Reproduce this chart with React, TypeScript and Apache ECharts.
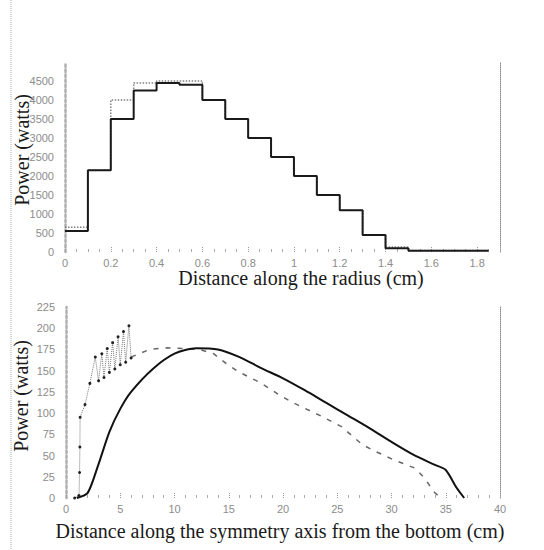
import React, { useEffect, useRef } from "react";
import * as echarts from "echarts";

// ---- Top chart: power along the radius (step profiles) ----
const radiusX = [0, 0.1, 0.2, 0.3, 0.4, 0.5, 0.6, 0.7, 0.8, 0.9, 1.0, 1.1, 1.2, 1.3, 1.4, 1.5, 1.85];
const radiusPowerSolid = [550, 2150, 3500, 4250, 4450, 4400, 4000, 3500, 3000, 2500, 2000, 1500, 1100, 450, 100, 30, 30];
const radiusPowerDotted = [650, 2150, 4000, 4450, 4500, 4500, 4000, 3500, 3000, 2500, 2000, 1500, 1100, 450, 130, 40, 40];

// ---- Bottom chart: power along the symmetry axis ----
const axisSolidX = [1.0, 2, 3, 4, 5, 6, 8, 10, 12, 14, 16, 18, 20, 22, 24, 26, 28, 30, 32, 34, 35, 36, 36.7];
const axisSolidP = [0, 6, 40, 78, 105, 125, 152, 170, 176.5, 175, 166, 153, 141, 127, 112, 97, 82, 66, 51, 39, 33, 12, 0];

const axisZigX = [0.8, 1.2, 1.25, 1.28, 1.3, 1.75, 2.2, 2.7, 3.0, 3.3, 3.5, 3.8, 4.0, 4.3, 4.5, 4.8, 5.0, 5.3, 5.5, 5.8, 6.0];
const axisZigP = [0, 3, 30, 60, 95, 110, 135, 166, 138, 170, 142, 176, 148, 183, 152, 190, 157, 196, 160, 203, 165];

const axisDashX = [6.0, 7.7, 9.3, 10.8, 12.3, 13.6, 14.8, 16.0, 17.9, 19.6, 20.8, 23.6, 25.4, 27.3, 28.5, 30.2, 32.2, 33.0, 34.0, 34.6];
const axisDashP = [166, 175, 177, 176, 175, 170, 158, 148, 136, 122, 113, 96, 84, 63, 55, 45, 35, 24, 6, 0];

const topXName = "Distance along the radius (cm)";
const bottomXName = "Distance along the symmetry axis from the bottom (cm)";
const yName = "Power (watts)";

const zip = (xs: number[], ys: number[]) => xs.map((x, i) => [x, ys[i]]);

const serif = "'Liberation Serif', 'DejaVu Serif', serif";
const sans = "'Liberation Sans', Arial, sans-serif";

export default function App() {
  const ref = useRef<HTMLDivElement>(null);
  useEffect(() => {
    if (!ref.current) return;
    const chart = echarts.init(ref.current, undefined, { renderer: "svg" });
    const labelStyle = { color: "#8c8c8c", fontSize: 11, fontFamily: sans, formatter: (v: number) => String(Math.round(v * 100) / 100) };
    const xCommon = {
      type: "value" as const,
      axisLine: { show: false },
      axisTick: { show: true, inside: true, length: 5, lineStyle: { color: "#999", type: "dotted" as const } },
      minorTick: { show: true, length: 3, lineStyle: { color: "#aaa" } },
      splitLine: { show: false },
      axisLabel: { ...labelStyle, margin: 5, showMaxLabel: false },
    };
    const yLeftCommon = {
      type: "value" as const,
      position: "left" as const,
      axisLine: { show: true, lineStyle: { color: "#b0b0b0", width: 2.5, type: "dotted" as const } },
      axisTick: { show: false },
      splitLine: { show: false },
      axisLabel: { ...labelStyle, margin: 11, showMaxLabel: false },
    };
    const yRightCommon = {
      type: "value" as const,
      position: "right" as const,
      axisLine: { show: true, onZero: false, lineStyle: { color: "#888", width: 1, type: "dotted" as const } },
      axisTick: { show: false },
      axisLabel: { show: false },
      splitLine: { show: false },
    };
    chart.setOption({
      animation: false,
      backgroundColor: "#fff",
      grid: [
        { left: 65, right: 44, top: 62, height: 190 },
        { left: 66, right: 44, top: 307, height: 191 },
      ],
      xAxis: [
        { ...xCommon, gridIndex: 0, min: 0, max: 1.9, interval: 0.2, minorTick: { ...xCommon.minorTick, splitNumber: 4 } },
        { ...xCommon, gridIndex: 1, min: 0, max: 40, interval: 5, minorTick: { ...xCommon.minorTick, splitNumber: 5 }, axisLabel: { ...xCommon.axisLabel, showMaxLabel: true } },
      ],
      yAxis: [
        { ...yLeftCommon, gridIndex: 0, min: 0, max: 5000, interval: 500 },
        { ...yRightCommon, gridIndex: 0, min: 0, max: 5000 },
        { ...yLeftCommon, gridIndex: 1, min: 0, max: 225, interval: 25, axisLabel: { ...yLeftCommon.axisLabel, showMaxLabel: true } },
        { ...yRightCommon, gridIndex: 1, min: 0, max: 225 },
      ],
      series: [
        {
          type: "line", xAxisIndex: 0, yAxisIndex: 0, step: "end", showSymbol: false,
          data: zip(radiusX, radiusPowerDotted),
          lineStyle: { color: "#808080", width: 1.5, type: "dotted" },
        },
        {
          type: "line", xAxisIndex: 0, yAxisIndex: 0, step: "end", showSymbol: false,
          data: zip(radiusX, radiusPowerSolid),
          lineStyle: { color: "#1a1a1a", width: 2 },
        },
        {
          type: "line", xAxisIndex: 1, yAxisIndex: 2, showSymbol: true, symbol: "circle", symbolSize: 3,
          data: zip(axisZigX, axisZigP),
          itemStyle: { color: "#222" },
          lineStyle: { color: "#777", width: 1, type: "dotted" },
        },
        {
          type: "line", xAxisIndex: 1, yAxisIndex: 2, showSymbol: false,
          data: zip(axisDashX, axisDashP),
          lineStyle: { color: "#666", width: 1.5, type: [5, 7] },
        },
        {
          type: "line", xAxisIndex: 1, yAxisIndex: 2, showSymbol: false, smooth: 0.25,
          data: zip(axisSolidX, axisSolidP),
          lineStyle: { color: "#111", width: 2 },
        },
      ],
      graphic: [
        { type: "line", shape: { x1: 11, y1: 0, x2: 11, y2: 550 }, style: { stroke: "#aaa", lineWidth: 1, lineDash: [1, 1] } },
        { type: "text", x: 301, y: 278, style: { text: topXName, font: `20px ${serif}`, fill: "#1a1a1a", align: "center", verticalAlign: "middle" } },
        { type: "text", x: 280, y: 531, style: { text: bottomXName, font: `20px ${serif}`, fill: "#1a1a1a", align: "center", verticalAlign: "middle" } },
        { type: "text", x: 22, y: 150, rotation: Math.PI / 2, style: { text: yName, font: `20px ${serif}`, fill: "#1a1a1a", align: "center", verticalAlign: "middle" } },
        { type: "text", x: 21, y: 396, rotation: Math.PI / 2, style: { text: yName, font: `20px ${serif}`, fill: "#1a1a1a", align: "center", verticalAlign: "middle" } },
      ],
    });
    return () => chart.dispose();
  }, []);
  return <div ref={ref} style={{ position: "fixed", left: 0, top: 0, width: 544, height: 550 }} />;
}
